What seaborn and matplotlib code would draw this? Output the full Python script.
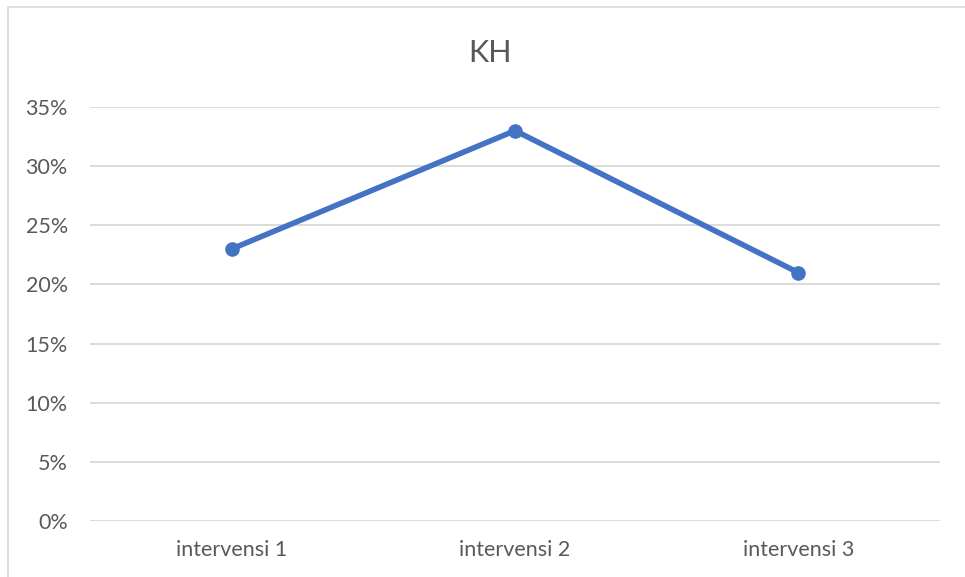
import matplotlib
matplotlib.use("Agg")
import matplotlib.pyplot as plt
import seaborn as sns
import pandas as pd
from matplotlib.patches import Rectangle
from matplotlib.ticker import FuncFormatter

categories = ["intervensi 1", "intervensi 2", "intervensi 3"]
values = [0.23, 0.33, 0.21]
title = "KH"

sns.set_theme(style="white")
plt.rcParams['font.family'] = ['Lato', 'DejaVu Sans']

df = pd.DataFrame({"cat": categories, "val": values})

fig = plt.figure(figsize=(9.65, 5.77), dpi=100)
ax = fig.add_axes([90/965, 56/577, 850/965, 414/577])

sns.lineplot(data=df, x="cat", y="val", ax=ax, color="#4472C4", linewidth=4.0,
             marker="o", markersize=10.5, markeredgewidth=0, sort=False)

ax.set_xlim(-0.5, 2.5)
ax.set_ylim(0, 0.35)
ax.set_yticks([0, 0.05, 0.10, 0.15, 0.20, 0.25, 0.30, 0.35])
ax.yaxis.set_major_formatter(FuncFormatter(lambda v, p: f"{round(v*100)}%"))
ax.grid(axis="y", color="#D9D9D9", linewidth=1.3)
ax.grid(axis="x", visible=False)
ax.set_axisbelow(True)
for s in ax.spines.values():
    s.set_visible(False)
ax.set_xlabel("")
ax.set_ylabel("")
ax.tick_params(axis="both", length=0, labelsize=15.5, labelcolor="#595959")
ax.tick_params(axis="y", pad=16)
ax.tick_params(axis="x", pad=14)

fig.text(490/965, 1 - 53/577, title, ha="center", va="center", fontsize=22, color="#595959")

fig.patches.append(Rectangle((8/965, -0.1), 1.2, 1 - 7/577 + 0.1, transform=fig.transFigure,
                             fill=False, edgecolor="#D9D9D9", linewidth=1.2))

fig.savefig("out.png", dpi=100)
